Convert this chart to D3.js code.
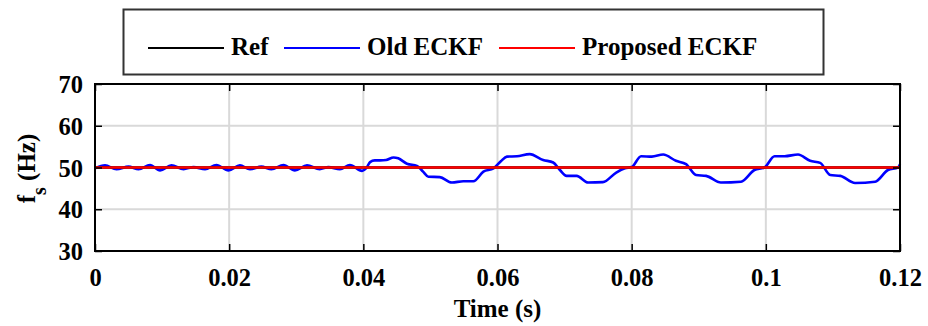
<!DOCTYPE html>
<html>
<head>
<meta charset="utf-8">
<script src="https://cdn.jsdelivr.net/npm/d3@7"></script>
<style>
  html, body { margin: 0; padding: 0; background: #fff; }
  svg { display: block; }
  text { font-family: "Liberation Serif", "Times New Roman", serif; font-weight: bold; fill: #000; }
</style>
</head>
<body>
<svg id="chart" width="928" height="326"></svg>
<script>
// Axis ticks and labels
const xTicks = [0, 0.02, 0.04, 0.06, 0.08, 0.1, 0.12];
const xTickLabels = ["0", "0.02", "0.04", "0.06", "0.08", "0.1", "0.12"];
const yTicks = [30, 40, 50, 60, 70];
const yTickLabels = ["30", "40", "50", "60", "70"];

// Reference frequency and proposed estimator (flat at 50 Hz)
const refTime = [0, 0.12];
const refValue = [50, 50];
const proposedTime = [0, 0.12];
const proposedValue = [50, 50];

// Old ECKF estimate (s, Hz)
const oldTime = [
  0.0000, 0.0015, 0.0032, 0.0050, 0.0065, 0.0082, 0.0097, 0.0114, 0.0132, 0.0147,
  0.0164, 0.0181, 0.0199, 0.0216, 0.0231, 0.0248, 0.0263, 0.0281, 0.0298, 0.0316,
  0.0335, 0.0348, 0.0365, 0.0380, 0.0398, 0.0405, 0.0410, 0.0417, 0.0425, 0.0434,
  0.0445, 0.0452, 0.0465, 0.0480, 0.0489, 0.0497, 0.0514, 0.0532, 0.0549, 0.0564,
  0.0579, 0.0594, 0.0605, 0.0614, 0.0629, 0.0648, 0.0668, 0.0683, 0.0693, 0.0703,
  0.0718, 0.0735, 0.0757, 0.0777, 0.0790, 0.0800, 0.0814, 0.0830, 0.0847, 0.0866,
  0.0881, 0.0896, 0.0911, 0.0933, 0.0963, 0.0983, 0.0998, 0.1013, 0.1028, 0.1048,
  0.1066, 0.1081, 0.1096, 0.1111, 0.1133, 0.1163, 0.1182, 0.1197, 0.1200
];
const oldValue = [
  49.8, 50.5, 49.6, 50.2, 49.6, 50.6, 49.3, 50.5, 49.6, 50.1,
  49.6, 50.6, 49.3, 50.5, 49.6, 50.2, 49.6, 50.6, 49.3, 50.5,
  49.6, 50.1, 49.6, 50.6, 49.2, 50.0, 51.3, 51.7, 51.7, 51.8,
  52.4, 52.2, 50.9, 50.4, 49.0, 47.8, 47.7, 46.4, 46.7, 46.7,
  49.0, 49.8, 51.5, 52.6, 52.7, 53.2, 51.8, 51.2, 49.4, 48.0,
  48.0, 46.4, 46.5, 48.8, 49.8, 50.1, 52.7, 52.6, 53.1, 51.6,
  50.8, 48.2, 48.0, 46.4, 46.6, 49.4, 50.0, 52.7, 52.7, 53.1,
  51.6, 51.1, 48.2, 48.0, 46.3, 46.6, 49.4, 50.0, 50.8
];

const seriesNames = ["Ref", "Old ECKF", "Proposed ECKF"];
const seriesColors = ["#000000", "#0000ff", "#ff0000"];

const svg = d3.select("#chart");
const x = d3.scaleLinear().domain([0, 0.12]).range([95, 900]);
const y = d3.scaleLinear().domain([30, 70]).range([251, 84]);

// Grid
const grid = svg.append("g").attr("stroke", "#d9d9d9").attr("stroke-width", 2);
grid.selectAll(".gx").data(xTicks.slice(1, -1)).join("line")
  .attr("x1", d => x(d)).attr("x2", d => x(d))
  .attr("y1", y(70)).attr("y2", y(30));
grid.selectAll(".gy").data(yTicks.slice(1, -1)).join("line")
  .attr("x1", x(0)).attr("x2", x(0.12))
  .attr("y1", d => y(d)).attr("y2", d => y(d));

// Series
const line = d3.line().x(d => x(d[0])).y(d => y(d[1]));
const smooth = d3.line().x(d => x(d[0])).y(d => y(d[1])).curve(d3.curveMonotoneX);

svg.append("path")
  .datum(d3.zip(oldTime, oldValue))
  .attr("d", smooth).attr("fill", "none")
  .attr("stroke", seriesColors[1]).attr("stroke-width", 2.6)
  .attr("stroke-linejoin", "round");
svg.append("path")
  .datum(d3.zip(refTime, refValue))
  .attr("d", line).attr("fill", "none")
  .attr("stroke", seriesColors[0]).attr("stroke-width", 2.4);
svg.append("path")
  .datum(d3.zip(proposedTime, proposedValue))
  .attr("d", line).attr("fill", "none")
  .attr("stroke", seriesColors[2]).attr("stroke-width", 2.6);

// Axes (ticks pointing inward, mirrored on top and right)
const fmtX = (d, i) => xTickLabels[i];
const fmtY = (d, i) => yTickLabels[i];

const gx = svg.append("g").attr("transform", `translate(0,${y(30)})`)
  .call(d3.axisBottom(x).tickValues(xTicks).tickFormat(fmtX).tickSize(-7).tickPadding(18));
const gy = svg.append("g").attr("transform", `translate(${x(0)},0)`)
  .call(d3.axisLeft(y).tickValues(yTicks).tickFormat(fmtY).tickSize(-7).tickPadding(12));
const gt = svg.append("g").attr("transform", `translate(0,${y(70)})`)
  .call(d3.axisTop(x).tickValues(xTicks).tickFormat("").tickSize(-7));
const gr = svg.append("g").attr("transform", `translate(${x(0.12)},0)`)
  .call(d3.axisRight(y).tickValues(yTicks).tickFormat("").tickSize(-7));

[gx, gy, gt, gr].forEach(g => {
  g.select(".domain").remove();
  g.selectAll(".tick line").attr("stroke", "#000").attr("stroke-width", 1.5);
  g.selectAll("text").attr("font-size", 24.5)
    .attr("font-family", "'Liberation Serif', 'Times New Roman', serif")
    .attr("font-weight", "bold").attr("fill", "#000");
});
gy.selectAll("text").attr("dy", "0.35em");

svg.append("rect")
  .attr("x", x(0)).attr("y", y(70))
  .attr("width", x(0.12) - x(0)).attr("height", y(30) - y(70))
  .attr("fill", "none").attr("stroke", "#000").attr("stroke-width", 2);

// Axis titles
svg.append("text")
  .attr("x", (x(0) + x(0.12)) / 2).attr("y", 317)
  .attr("text-anchor", "middle").attr("font-size", 25)
  .text("Time (s)");

const yl = svg.append("text")
  .attr("transform", `translate(35,${(y(30) + y(70)) / 2 + 1}) rotate(-90)`)
  .attr("text-anchor", "middle").attr("font-size", 25);
yl.append("tspan").text("f");
yl.append("tspan").attr("font-size", 20).attr("dy", 11).text("s");
yl.append("tspan").attr("dy", -11).text(" (Hz)");

// Legend
const legend = svg.append("g");
legend.append("rect")
  .attr("x", 123.5).attr("y", 9.5).attr("width", 700).attr("height", 65)
  .attr("fill", "#fff").attr("stroke", "#333").attr("stroke-width", 2);
const legendX = [148, 284, 499];
seriesNames.forEach((name, i) => {
  legend.append("line")
    .attr("x1", legendX[i]).attr("x2", legendX[i] + 76)
    .attr("y1", 48).attr("y2", 48)
    .attr("stroke", seriesColors[i]).attr("stroke-width", 2);
  legend.append("text")
    .attr("x", legendX[i] + 83).attr("y", 55)
    .attr("font-size", 25).text(name);
});
</script>
</body>
</html>
